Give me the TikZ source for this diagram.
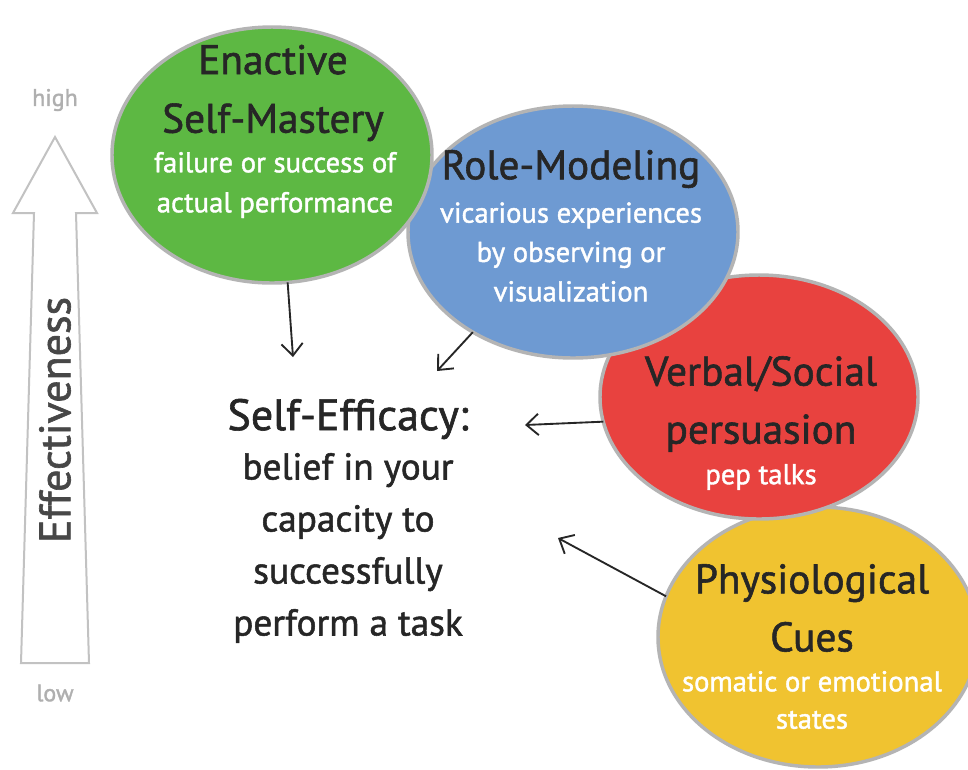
\documentclass[tikz,border=0pt]{standalone}
\usepackage{fontspec}
\setmainfont{PT Sans}[RawFeature={embolden=1.4}]
\usetikzlibrary{shapes.geometric,arrows.meta}

\definecolor{cgreen}{HTML}{5DB843}
\definecolor{cblue}{HTML}{6E9AD2}
\definecolor{cred}{HTML}{E8423F}
\definecolor{cyellow}{HTML}{F0C330}
\definecolor{rim}{HTML}{B4B4B4}
\definecolor{ink}{HTML}{262626}
\definecolor{scalegray}{HTML}{C2C2C2}
\definecolor{labelgray}{HTML}{AFAFAF}
\definecolor{axisink}{HTML}{474747}

\tikzset{
  bubble/.style={ellipse, draw=rim, line width=2.6pt, inner sep=0pt, outer sep=0pt},
  head/.style={text=ink, align=center, font=\fontsize{31}{44}\selectfont},
  note/.style={text=white, align=center, font=\fontsize{21.5}{29.5}\selectfont},
  link/.style={draw=ink, line width=1.4pt, -{Straight Barb[length=9pt,width=16pt]}},
}

\begin{document}
\begin{tikzpicture}[x=0.75pt,y=-0.75pt]
\useasboundingbox (0,0) rectangle (968,769);
\clip (0,0) rectangle (968,769);
\fill[white] (0,0) rectangle (968,769);

% effectiveness scale
\draw[draw=scalegray, line width=1.5pt, fill=white, line join=miter]
  (55,137) -- (97,213) -- (76,213) -- (89,663) -- (21,663) -- (34,213) -- (13,213) -- cycle;
\node[text=labelgray, font=\fontsize{18}{20}\selectfont] (high) at (55,100) {high};
\node[text=labelgray, font=\fontsize{18}{20}\selectfont] (low) at (55,693) {low};
\node[rotate=90, text=axisink, font=\fontsize{33}{36}\selectfont] (eff) at (55,420) {Effectiveness};

% the four sources
\node[bubble, fill=cyellow, minimum width=240pt, minimum height=195pt] (cues) at (818,637) {};
\node[bubble, fill=cred, minimum width=238.5pt, minimum height=183pt] (verbal) at (759,397) {};
\node[bubble, fill=cblue, minimum width=247.5pt, minimum height=189pt] (model) at (573,232) {};
\node[bubble, fill=cgreen, minimum width=240pt, minimum height=192pt] (mastery) at (272,155) {};

\node[head] (masteryT) at (273,93) {Enactive\\Self-Mastery};
\node[note, font=\fontsize{21.5}{30}\selectfont] (masteryN) at (275,185) {failure or success of\\actual performance};

\node[head] (modelT) at (571,169) {Role-Modeling};
\node[note] (modelN) at (571,252) {vicarious experiences\\by observing or\\visualization};

\node[head, font=\fontsize{31}{43.5}\selectfont] (verbalT) at (761,404) {Verbal/Social\\persuasion};
\node[note] (verbalN) at (761,477) {pep talks};

\node[head, font=\fontsize{31}{43.5}\selectfont] (cuesT) at (812,608) {Physiological\\Cues};
\node[note, font=\fontsize{21.5}{28}\selectfont] (cuesN) at (812,700) {somatic or emotional\\states};

% self-efficacy
\node[text=ink, font=\fontsize{33}{40}\selectfont] (se) at (348,419) {Self-Efficacy:};
\node[text=ink, align=center, font=\fontsize{28}{39}\selectfont] (sedef) at (348,548)
  {belief in your\\capacity to\\successfully\\perform a task};

% arrows into self-efficacy
\coordinate (t1) at (293,357);
\coordinate (t2) at (437,371);
\coordinate (t3) at (525,425);
\coordinate (t4) at (558,538);
\draw[link] (mastery.-83) -- (t1);
\draw[link] (model.-135) -- (t2);
\draw[link] (verbal.189) -- (t3);
\draw[link] (cues.165) -- (t4);
\end{tikzpicture}
\end{document}
